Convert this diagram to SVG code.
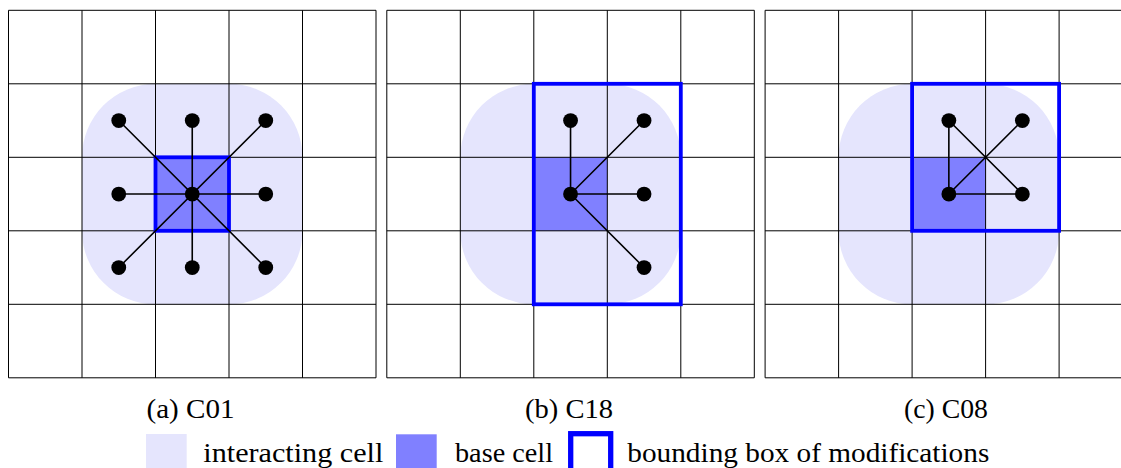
<svg xmlns="http://www.w3.org/2000/svg" xmlns:xlink="http://www.w3.org/1999/xlink" width="1121" height="468" viewBox="0 0 1121 468">
  <style>
    .interact { fill: #e5e5fd; }
    .base { fill: #8080ff; }
    .grid { fill: none; stroke: #000; stroke-width: 1; }
    .bbox { fill: none; stroke: #0000ff; stroke-width: 3.8; }
    .link { stroke: #000; stroke-width: 1.6; fill: none; }
    .particle { fill: #000; }
    .label { font-family: "Liberation Serif", "DejaVu Serif", serif; font-size: 27px; fill: #000; }
  </style>
  <defs>
    <!-- 5x5 cell grid, 73.5 px per cell -->
    <path id="cells" class="grid" d="M0 0H367.5V367.5H0Z M73.5 0V367.5 M147 0V367.5 M220.5 0V367.5 M294 0V367.5 M0 73.5H367.5 M0 147H367.5 M0 220.5H367.5 M0 294H367.5"/>
  </defs>

  <!-- (a) C01 -->
  <g id="panel-c01" transform="translate(8.5,10.3)">
    <rect class="interact" x="73.5" y="73.5" width="220.5" height="220.5" rx="73.5" ry="73.5"/>
    <rect class="base" x="147" y="147" width="73.5" height="73.5"/>
    <use xlink:href="#cells" href="#cells"/>
    <rect class="bbox" x="147" y="147" width="73.5" height="73.5"/>
    <g id="links-c01" class="link">
      <path d="M110.25 110.25L257.25 257.25 M257.25 110.25L110.25 257.25 M183.75 110.25V257.25 M110.25 183.75H257.25"/>
    </g>
    <g class="particle">
      <circle cx="183.75" cy="183.75" r="7.4"/>
      <circle cx="110.25" cy="110.25" r="7.4"/>
      <circle cx="183.75" cy="110.25" r="7.4"/>
      <circle cx="257.25" cy="110.25" r="7.4"/>
      <circle cx="110.25" cy="183.75" r="7.4"/>
      <circle cx="257.25" cy="183.75" r="7.4"/>
      <circle cx="110.25" cy="257.25" r="7.4"/>
      <circle cx="183.75" cy="257.25" r="7.4"/>
      <circle cx="257.25" cy="257.25" r="7.4"/>
    </g>
  </g>

  <!-- (b) C18 -->
  <g id="panel-c18" transform="translate(386.8,10.3)">
    <rect class="interact" x="73.5" y="73.5" width="220.5" height="220.5" rx="73.5" ry="73.5"/>
    <rect class="base" x="147" y="147" width="73.5" height="73.5"/>
    <use xlink:href="#cells" href="#cells"/>
    <rect class="bbox" x="147" y="73.5" width="147" height="220.5"/>
    <g id="links-c18" class="link">
      <path d="M183.75 183.75V110.25 M183.75 183.75L257.25 110.25 M183.75 183.75H257.25 M183.75 183.75L257.25 257.25"/>
    </g>
    <g class="particle">
      <circle cx="183.75" cy="183.75" r="7.4"/>
      <circle cx="183.75" cy="110.25" r="7.4"/>
      <circle cx="257.25" cy="110.25" r="7.4"/>
      <circle cx="257.25" cy="183.75" r="7.4"/>
      <circle cx="257.25" cy="257.25" r="7.4"/>
    </g>
  </g>

  <!-- (c) C08 -->
  <g id="panel-c08" transform="translate(765.1,10.3)">
    <rect class="interact" x="73.5" y="73.5" width="220.5" height="220.5" rx="73.5" ry="73.5"/>
    <rect class="base" x="147" y="147" width="73.5" height="73.5"/>
    <use xlink:href="#cells" href="#cells"/>
    <rect class="bbox" x="147" y="73.5" width="147" height="147"/>
    <g id="links-c08" class="link">
      <path d="M183.75 183.75V110.25 M183.75 183.75H257.25 M183.75 183.75L257.25 110.25 M183.75 110.25L257.25 183.75"/>
    </g>
    <g class="particle">
      <circle cx="183.75" cy="183.75" r="7.4"/>
      <circle cx="183.75" cy="110.25" r="7.4"/>
      <circle cx="257.25" cy="110.25" r="7.4"/>
      <circle cx="257.25" cy="183.75" r="7.4"/>
    </g>
  </g>

  <!-- sub-captions -->
  <g id="captions" class="label">
    <text x="190.5" y="417.5" text-anchor="middle" textLength="88" lengthAdjust="spacingAndGlyphs">(a) C01</text>
    <text x="569" y="417.5" text-anchor="middle" textLength="88" lengthAdjust="spacingAndGlyphs">(b) C18</text>
    <text x="946" y="417.5" text-anchor="middle" textLength="84" lengthAdjust="spacingAndGlyphs">(c) C08</text>
  </g>

  <!-- legend -->
  <g id="legend">
    <rect class="interact" x="146" y="434" width="40.7" height="40"/>
    <text class="label" x="203.3" y="461.7" textLength="180" lengthAdjust="spacingAndGlyphs">interacting cell</text>
    <rect class="base" x="396" y="434.3" width="40.7" height="40"/>
    <text class="label" x="455" y="461.7" textLength="98" lengthAdjust="spacingAndGlyphs">base cell</text>
    <rect fill="none" stroke="#0000ff" stroke-width="5.3" x="570.7" y="433.7" width="40" height="45"/>
    <text class="label" x="627.3" y="461.7" textLength="362" lengthAdjust="spacingAndGlyphs">bounding box of modifications</text>
  </g>
</svg>
